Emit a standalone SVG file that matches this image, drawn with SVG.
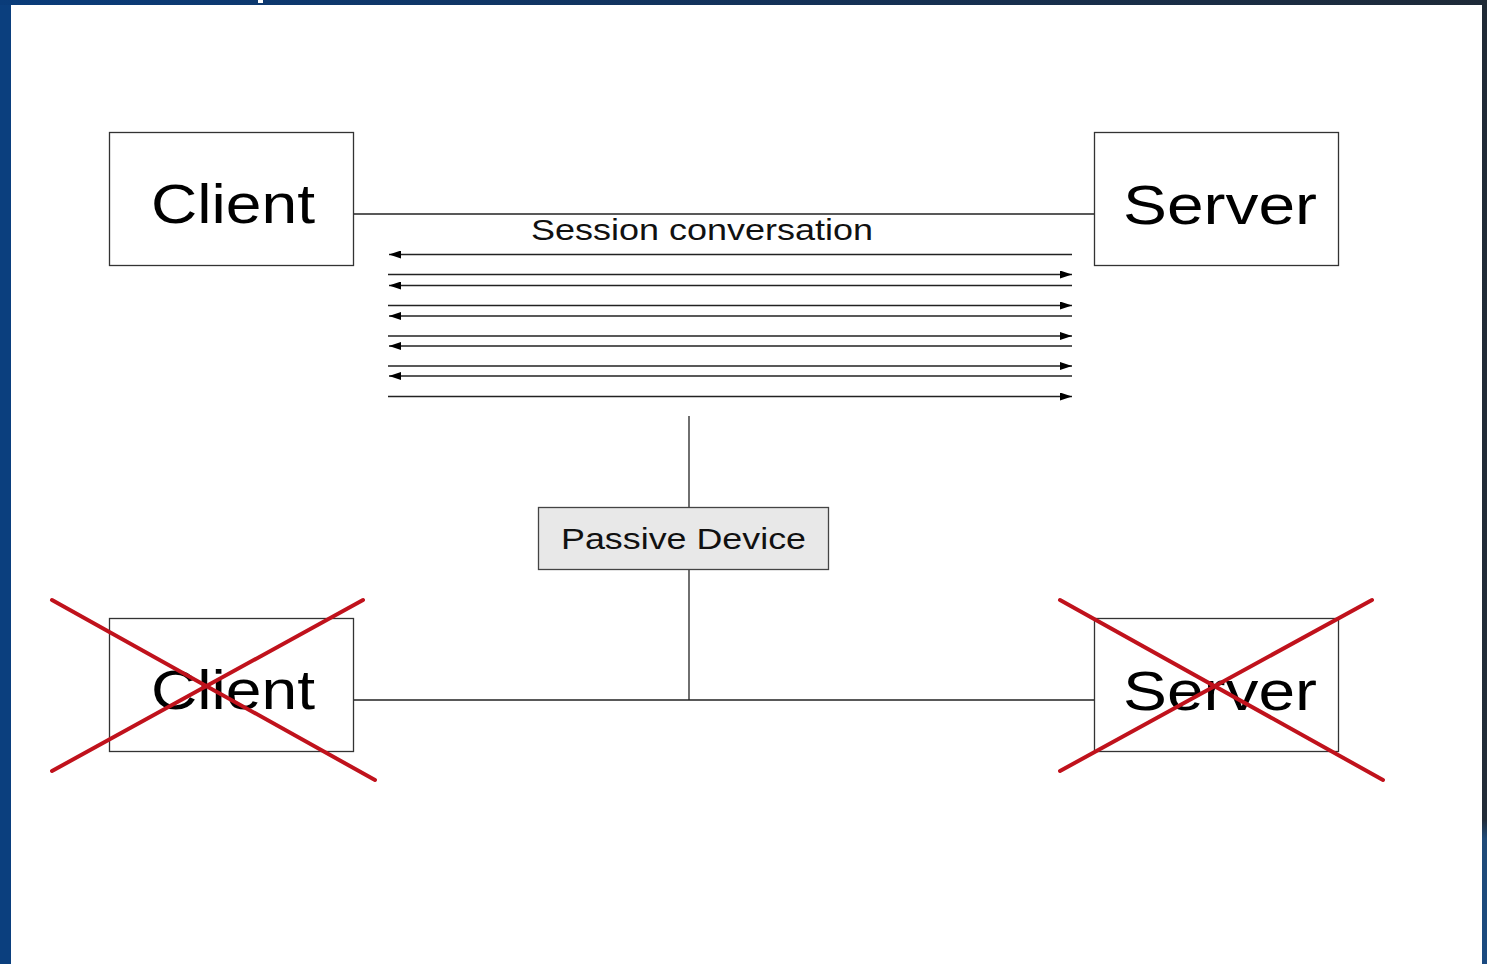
<svg xmlns="http://www.w3.org/2000/svg" width="1487" height="964" viewBox="0 0 1487 964">
<defs>
<linearGradient id="topg" x1="0" y1="0" x2="1" y2="0">
<stop offset="0" stop-color="#0a3c7a"/><stop offset="0.5" stop-color="#13325a"/><stop offset="1" stop-color="#1e2a38"/>
</linearGradient>
<linearGradient id="rightg" x1="0" y1="0" x2="0" y2="1">
<stop offset="0" stop-color="#202a36"/><stop offset="0.85" stop-color="#222c38"/><stop offset="0.87" stop-color="#1f4a78"/><stop offset="1" stop-color="#1a4a80"/>
</linearGradient>
<marker id="ah" viewBox="0 0 12 8" refX="12" refY="4" markerWidth="12" markerHeight="8" markerUnits="userSpaceOnUse" orient="auto">
<path d="M0,0 L12,4 L0,8 z" fill="#000"/>
</marker>
<style>
.box{fill:#fff;stroke:#333;stroke-width:1.3}
.pbox{fill:#e8e8e8;stroke:#444;stroke-width:1.3}
.line{stroke:#222;stroke-width:1.3;fill:none}
.msg{stroke:#222;stroke-width:1.6;fill:none}
.big{font-family:"Liberation Sans",Arial,sans-serif;font-size:56px;fill:#000}
.mid{font-family:"Liberation Sans",Arial,sans-serif;font-size:30px;fill:#111}
.x{stroke:#c0121c;stroke-width:4;stroke-linecap:round}
</style>
</defs>
<rect x="0" y="0" width="1487" height="964" fill="#fff"/>
<rect x="0" y="0" width="11" height="964" fill="#0b3f7e"/>
<rect x="0" y="0" width="1487" height="5" fill="url(#topg)"/>
<rect x="258" y="0" width="5" height="3" fill="#fff"/>
<rect x="1482" y="0" width="5" height="964" fill="url(#rightg)"/>

<g id="connectors">
<line class="line" x1="353" y1="214" x2="1094" y2="214"/>
<line class="line" x1="689" y1="416" x2="689" y2="507"/>
<line class="line" x1="689" y1="569" x2="689" y2="700"/>
<line class="line" x1="353" y1="700" x2="1094" y2="700"/>
<line class="msg" x1="1072" y1="254.5" x2="389" y2="254.5" marker-end="url(#ah)"/>
<line class="msg" x1="388" y1="274.5" x2="1072" y2="274.5" marker-end="url(#ah)"/>
<line class="msg" x1="1072" y1="285.5" x2="389" y2="285.5" marker-end="url(#ah)"/>
<line class="msg" x1="388" y1="305.5" x2="1072" y2="305.5" marker-end="url(#ah)"/>
<line class="msg" x1="1072" y1="316" x2="389" y2="316" marker-end="url(#ah)"/>
<line class="msg" x1="388" y1="336" x2="1072" y2="336" marker-end="url(#ah)"/>
<line class="msg" x1="1072" y1="346" x2="389" y2="346" marker-end="url(#ah)"/>
<line class="msg" x1="388" y1="366" x2="1072" y2="366" marker-end="url(#ah)"/>
<line class="msg" x1="1072" y1="376" x2="389" y2="376" marker-end="url(#ah)"/>
<line class="msg" x1="388" y1="396.5" x2="1072" y2="396.5" marker-end="url(#ah)"/>
<text class="mid" x="531" y="240" textLength="342" lengthAdjust="spacingAndGlyphs">Session conversation</text>
</g>

<g id="client-top">
<rect class="box" x="109.5" y="132.5" width="244" height="133"/>
<text class="big" x="151" y="223" textLength="164" lengthAdjust="spacingAndGlyphs">Client</text>
</g>
<g id="server-top">
<rect class="box" x="1094.5" y="132.5" width="244" height="133"/>
<text class="big" x="1123" y="224" textLength="194" lengthAdjust="spacingAndGlyphs">Server</text>
</g>
<g id="passive-device">
<rect class="pbox" x="538.5" y="507.5" width="290" height="62"/>
<text class="mid" x="561" y="549" font-size="32" textLength="245" lengthAdjust="spacingAndGlyphs">Passive Device</text>
</g>
<g id="client-bottom">
<rect class="box" x="109.5" y="618.5" width="244" height="133"/>
<text class="big" x="151" y="709" textLength="164" lengthAdjust="spacingAndGlyphs">Client</text>
<line class="x" x1="52" y1="600" x2="375" y2="780"/>
<line class="x" x1="52" y1="771" x2="363" y2="600"/>
</g>
<g id="server-bottom">
<rect class="box" x="1094.5" y="618.5" width="244" height="133"/>
<text class="big" x="1123" y="710" textLength="194" lengthAdjust="spacingAndGlyphs">Server</text>
<line class="x" x1="1060" y1="600" x2="1383" y2="780"/>
<line class="x" x1="1060" y1="771" x2="1372" y2="600"/>
</g>
</svg>
